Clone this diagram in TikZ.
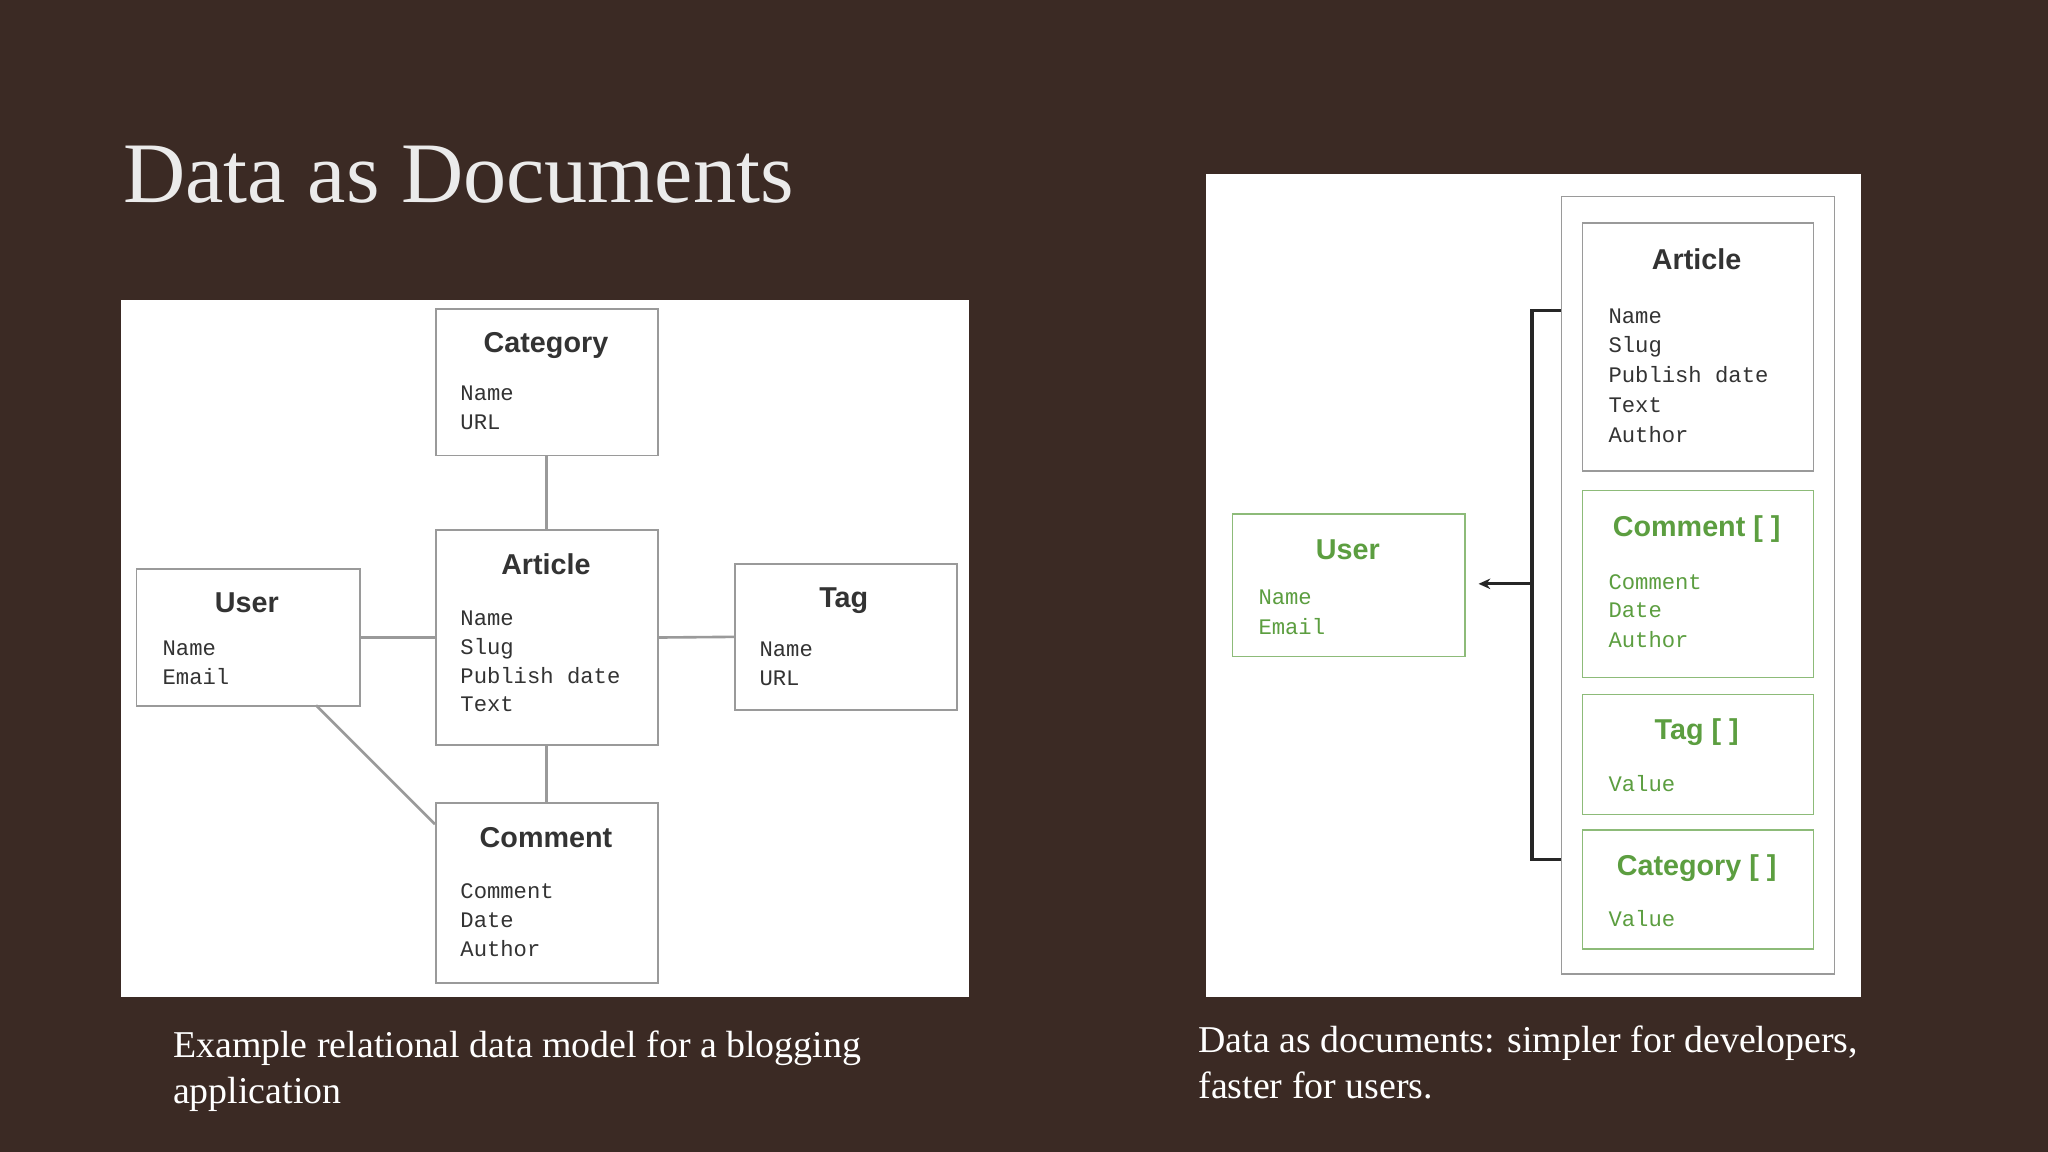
\documentclass[tikz,border=0pt]{standalone}
\usepackage{fontspec}
\setmainfont{Liberation Serif}
\newfontfamily\boxsans{Liberation Sans}
\newfontfamily\boxmono{Liberation Mono}
\usetikzlibrary{arrows.meta}
\definecolor{bgbrown}{HTML}{3B2A24}
\definecolor{gline}{HTML}{9A9A9A}
\definecolor{grn}{HTML}{5C9E40}
\definecolor{txt}{HTML}{333333}
\begin{document}
\begin{tikzpicture}[x=1pt,y=-1pt,
  box/.style={draw=gline,line width=1.2pt,fill=white,anchor=north west,inner sep=0,minimum width=#1},
  gbox/.style={draw=grn!70,line width=1.2pt,fill=white,anchor=north west,inner sep=0},
  ttl/.style={font=\boxsans\bfseries\fontsize{22}{24}\selectfont,text=txt,anchor=base},
  fld/.style={font=\boxmono\fontsize{17}{20}\selectfont,text=txt,anchor=base west},
  gttl/.style={ttl,text=grn},
  gfld/.style={fld,text=grn},
  conn/.style={draw=gline,line width=2pt},
  captxt/.style={font=\fontsize{29}{35}\selectfont,text=white,anchor=base west,align=left}]
\fill[bgbrown] (0,0) rectangle (1568,882);
\useasboundingbox (0,0) rectangle (1568,882);
\node[font=\fontsize{66}{70}\selectfont,text=white!92!black,anchor=base west] (title) at (91,155) {Data as Documents};
% left panel
\fill[white] (93,230) rectangle (742,763);
\node[box=170pt,minimum height=112pt] (cat) at (333,236) {};
\node[box=170pt,minimum height=165pt] (art) at (333,405) {};
\node[box=171pt,minimum height=105pt] (user) at (104,435) {};
\node[box=170pt,minimum height=112pt] (tag) at (562,431) {};
\node[box=170pt,minimum height=138pt] (com) at (333,614) {};
\node[ttl] (catt) at (418,270) {Category};
\node[fld] (catf1) at (349,307) {Name};
\node[fld] (catf2) at (349,329) {URL};
\node[ttl] (artt) at (418,440) {Article};
\node[fld] (artf1) at (349,479) {Name};
\node[fld] (artf2) at (349,501) {Slug};
\node[fld] (artf3) at (349,523) {Publish date};
\node[fld] (artf4) at (349,545) {Text};
\node[ttl] (usert) at (189,469) {User};
\node[fld] (userf1) at (121,502) {Name};
\node[fld] (userf2) at (121,524) {Email};
\node[ttl] (tagt) at (646,465) {Tag};
\node[fld] (tagf1) at (578,503) {Name};
\node[fld] (tagf2) at (578,525) {URL};
\node[ttl] (comt) at (418,649) {Comment};
\node[fld] (comf1) at (349,688) {Comment};
\node[fld] (comf2) at (349,710) {Date};
\node[fld] (comf3) at (349,732) {Author};
\draw[conn] (cat.south) -- (art.north);
\draw[conn] (user.east) -- (art.west);
\draw[conn] (art.east) -- (tag.west);
\draw[conn] (art.south) -- (com.north);
\coordinate (ud) at (242,540);
\coordinate (cd) at (333,631);
\draw[conn] (ud) -- (cd);
% right panel
\fill[white] (923,133) rectangle (1425,763);
\node[box=209pt,minimum height=595pt] (outer) at (1195,150) {};
\node[box=177pt,minimum height=190pt] (rart) at (1211,170) {};
\node[gbox,minimum width=177pt,minimum height=143pt] (rcom) at (1211,375) {};
\node[gbox,minimum width=177pt,minimum height=92pt] (rtag) at (1211,531) {};
\node[gbox,minimum width=177pt,minimum height=91pt] (rcat) at (1211,635) {};
\node[gbox,minimum width=178pt,minimum height=109pt] (ruser) at (943,393) {};
\node[ttl] (rartt) at (1299,206) {Article};
\node[fld] (rartf1) at (1228,248) {Name};
\node[fld] (rartf2) at (1228,270) {Slug};
\node[fld] (rartf3) at (1228,293) {Publish date};
\node[fld] (rartf4) at (1228,316) {Text};
\node[fld] (rartf5) at (1228,339) {Author};
\node[gttl] (rcomt) at (1299,411) {Comment [ ]};
\node[gfld] (rcomf1) at (1228,451) {Comment};
\node[gfld] (rcomf2) at (1228,473) {Date};
\node[gfld] (rcomf3) at (1228,496) {Author};
\node[gttl] (rtagt) at (1299,566) {Tag [ ]};
\node[gfld] (rtagf1) at (1228,606) {Value};
\node[gttl] (rcatt) at (1299,670) {Category [ ]};
\node[gfld] (rcatf1) at (1228,709) {Value};
\node[gttl] (rusert) at (1032,428) {User};
\node[gfld] (ruserf1) at (960,463) {Name};
\node[gfld] (ruserf2) at (960,486) {Email};
\coordinate (bt) at (1195,238);
\coordinate (bb) at (1195,658);
\coordinate (bm) at (1173,447);
\coordinate (ah) at (1132,447);
\draw[black!85,line width=2.5pt] (bt) -- (bt -| bm) -- (bb -| bm) -- (bb);
\draw[black!85,line width=2.5pt,-{Stealth[length=9pt,width=8pt]}] (bm) -- (ah);
% captions
\node[captxt] (lcap1) at (129,810) {Example relational data model for a blogging};
\node[captxt] (lcap2) at (129,845) {application};
\node[captxt] (rcap1) at (914,806) {Data as documents: simpler for developers,};
\node[captxt] (rcap2) at (914,841) {faster for users.};
\end{tikzpicture}
\end{document}
